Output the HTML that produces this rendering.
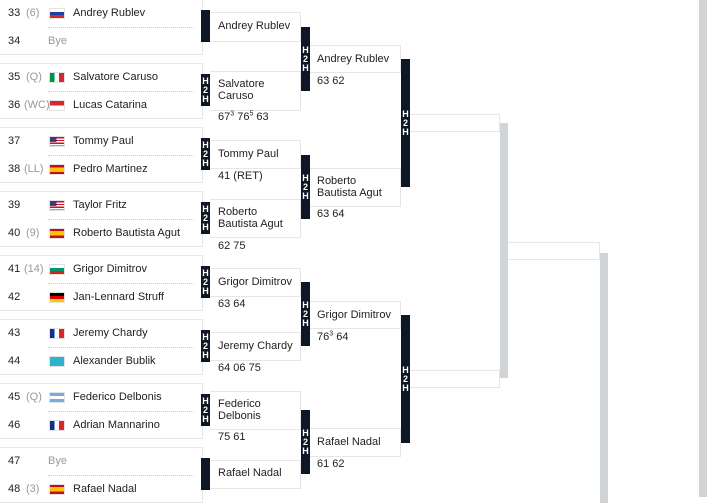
<!DOCTYPE html>
<html><head><meta charset="utf-8"><style>
*{margin:0;padding:0;box-sizing:border-box}
body{width:710px;height:497px;background:#fff;position:relative;overflow:hidden;font-family:"Liberation Sans",Arial,sans-serif;font-size:11px;color:#222}
.t{position:absolute;line-height:13px;white-space:nowrap}
.g{color:#999}
.blk{position:absolute;left:0;width:203px;height:56px;border-top:1px solid #e8e8e8;border-bottom:1px solid #e8e8e8;border-right:1px solid #e8e8e8}
.dot{position:absolute;left:48px;width:146px;border-top:1px dotted #c8c8c8}
.f{position:absolute;left:49px;width:16px;height:11px;border:1px solid #e2e2e2}
.bx{position:absolute;border-top:1px solid #e6e6e6;border-bottom:1px solid #e6e6e6;border-right:1px solid #e6e6e6}
.hb{position:absolute;width:9px;background:#0e1726;color:#fff;font-weight:bold;font-size:9px;line-height:9px;text-align:center;overflow:hidden;display:flex;flex-direction:column;justify-content:center;align-items:center;z-index:2}
.hb span{display:block;width:9px;text-align:center}
.gb{position:absolute;width:8px;background:#d1d4d7}
.ru{background:linear-gradient(#fff 33%,#1c3fa8 33%,#1c3fa8 66%,#d52b1e 66%)}
.it{background:linear-gradient(90deg,#009246 33%,#fff 33%,#fff 66%,#ce2b37 66%)}
.id{background:linear-gradient(#d8262e 50%,#fff 50%)}
.us{background:linear-gradient(90deg,#3c3b6e 45%,transparent 45%) top left/100% 55% no-repeat,repeating-linear-gradient(#c8102e 0 1.4px,#fff 1.4px 2.8px)}
.es{background:linear-gradient(#c60b1e 25%,#ffc400 25%,#ffc400 75%,#c60b1e 75%)}
.bg{background:linear-gradient(#fff 33%,#00966e 33%,#00966e 66%,#d62612 66%)}
.de{background:linear-gradient(#000 33%,#dd0000 33%,#dd0000 66%,#ffce00 66%)}
.fr{background:linear-gradient(90deg,#0f2f8f 33%,#fff 33%,#fff 66%,#e0242c 66%)}
.kz{background:#2fb1cf}
.ar{background:linear-gradient(#74acdf 33%,#fff 33%,#fff 66%,#74acdf 66%)}
sup{font-size:7px;line-height:0}
</style></head><body>

<div class="blk" style="top:-1px"></div><div class="dot" style="top:27px"></div>
<div class="blk" style="top:63px"></div><div class="dot" style="top:91px"></div>
<div class="blk" style="top:127px"></div><div class="dot" style="top:155px"></div>
<div class="blk" style="top:191px"></div><div class="dot" style="top:219px"></div>
<div class="blk" style="top:255px"></div><div class="dot" style="top:283px"></div>
<div class="blk" style="top:319px"></div><div class="dot" style="top:347px"></div>
<div class="blk" style="top:383px"></div><div class="dot" style="top:411px"></div>
<div class="blk" style="top:447px"></div><div class="dot" style="top:475px"></div>

<div class="t" style="left:8px;top:7px">33</div><div class="t g" style="left:26px;top:7px">(6)</div><div class="f ru" style="top:8px"></div><div class="t" style="left:73px;top:7px">Andrey Rublev</div>
<div class="t" style="left:8px;top:35px">34</div><div class="t g" style="left:48px;top:35px">Bye</div>

<div class="t" style="left:8px;top:71px">35</div><div class="t g" style="left:26px;top:71px">(Q)</div><div class="f it" style="top:72px"></div><div class="t" style="left:73px;top:71px">Salvatore Caruso</div>
<div class="t" style="left:8px;top:99px">36</div><div class="t g" style="left:24px;top:99px">(WC)</div><div class="f id" style="top:100px"></div><div class="t" style="left:73px;top:99px">Lucas Catarina</div>

<div class="t" style="left:8px;top:135px">37</div><div class="f us" style="top:136px"></div><div class="t" style="left:73px;top:135px">Tommy Paul</div>
<div class="t" style="left:8px;top:163px">38</div><div class="t g" style="left:24px;top:163px">(LL)</div><div class="f es" style="top:164px"></div><div class="t" style="left:73px;top:163px">Pedro Martinez</div>

<div class="t" style="left:8px;top:199px">39</div><div class="f us" style="top:200px"></div><div class="t" style="left:73px;top:199px">Taylor Fritz</div>
<div class="t" style="left:8px;top:227px">40</div><div class="t g" style="left:26px;top:227px">(9)</div><div class="f es" style="top:228px"></div><div class="t" style="left:73px;top:227px">Roberto Bautista Agut</div>

<div class="t" style="left:8px;top:263px">41</div><div class="t g" style="left:24px;top:263px">(14)</div><div class="f bg" style="top:264px"></div><div class="t" style="left:73px;top:263px">Grigor Dimitrov</div>
<div class="t" style="left:8px;top:291px">42</div><div class="f de" style="top:292px"></div><div class="t" style="left:73px;top:291px">Jan-Lennard Struff</div>

<div class="t" style="left:8px;top:327px">43</div><div class="f fr" style="top:328px"></div><div class="t" style="left:73px;top:327px">Jeremy Chardy</div>
<div class="t" style="left:8px;top:355px">44</div><div class="f kz" style="top:356px"></div><div class="t" style="left:73px;top:355px">Alexander Bublik</div>

<div class="t" style="left:8px;top:391px">45</div><div class="t g" style="left:26px;top:391px">(Q)</div><div class="f ar" style="top:392px"></div><div class="t" style="left:73px;top:391px">Federico Delbonis</div>
<div class="t" style="left:8px;top:419px">46</div><div class="f fr" style="top:420px"></div><div class="t" style="left:73px;top:419px">Adrian Mannarino</div>

<div class="t" style="left:8px;top:455px">47</div><div class="t g" style="left:48px;top:455px">Bye</div>
<div class="t" style="left:8px;top:483px">48</div><div class="t g" style="left:26px;top:483px">(3)</div><div class="f es" style="top:484px"></div><div class="t" style="left:73px;top:483px">Rafael Nadal</div>

<div class="hb" style="left:201px;top:10px;height:32px"></div>
<div class="hb" style="left:201px;top:74px;height:32px"><span>H</span><span>2</span><span>H</span></div>
<div class="hb" style="left:201px;top:138px;height:32px"><span>H</span><span>2</span><span>H</span></div>
<div class="hb" style="left:201px;top:202px;height:32px"><span>H</span><span>2</span><span>H</span></div>
<div class="hb" style="left:201px;top:266px;height:32px"><span>H</span><span>2</span><span>H</span></div>
<div class="hb" style="left:201px;top:330px;height:32px"><span>H</span><span>2</span><span>H</span></div>
<div class="hb" style="left:201px;top:394px;height:32px"><span>H</span><span>2</span><span>H</span></div>
<div class="hb" style="left:201px;top:458px;height:32px"></div>

<div class="bx" style="left:210px;top:12px;width:91px;height:30px"></div><div class="t" style="left:218px;top:20px">Andrey Rublev</div>
<div class="bx" style="left:210px;top:71px;width:91px;height:40px"></div><div class="t" style="left:218px;top:78px;line-height:12px">Salvatore<br>Caruso</div><div class="t" style="left:218px;top:111px">67<sup>3</sup> 76<sup>5</sup> 63</div>
<div class="bx" style="left:210px;top:140px;width:91px;height:29px"></div><div class="t" style="left:218px;top:148px">Tommy Paul</div><div class="t" style="left:218px;top:170px">41 (RET)</div>
<div class="bx" style="left:210px;top:199px;width:91px;height:39px"></div><div class="t" style="left:218px;top:206px;line-height:12px">Roberto<br>Bautista Agut</div><div class="t" style="left:218px;top:240px">62 75</div>
<div class="bx" style="left:210px;top:268px;width:91px;height:29px"></div><div class="t" style="left:218px;top:276px">Grigor Dimitrov</div><div class="t" style="left:218px;top:298px">63 64</div>
<div class="bx" style="left:210px;top:332px;width:91px;height:29px"></div><div class="t" style="left:218px;top:340px">Jeremy Chardy</div><div class="t" style="left:218px;top:362px">64 06 75</div>
<div class="bx" style="left:210px;top:391px;width:91px;height:39px"></div><div class="t" style="left:218px;top:398px;line-height:12px">Federico<br>Delbonis</div><div class="t" style="left:218px;top:431px">75 61</div>
<div class="bx" style="left:210px;top:460px;width:91px;height:29px"></div><div class="t" style="left:218px;top:467px">Rafael Nadal</div>

<div class="hb" style="left:301px;top:27px;height:64px"><span>H</span><span>2</span><span>H</span></div>
<div class="hb" style="left:301px;top:155px;height:64px"><span>H</span><span>2</span><span>H</span></div>
<div class="hb" style="left:301px;top:282px;height:64px"><span>H</span><span>2</span><span>H</span></div>
<div class="hb" style="left:301px;top:410px;height:64px"><span>H</span><span>2</span><span>H</span></div>

<div class="bx" style="left:310px;top:45px;width:91px;height:28px"></div><div class="t" style="left:317px;top:53px">Andrey Rublev</div><div class="t" style="left:317px;top:75px">63 62</div>
<div class="bx" style="left:310px;top:168px;width:91px;height:39px"></div><div class="t" style="left:317px;top:175px;line-height:12px">Roberto<br>Bautista Agut</div><div class="t" style="left:317px;top:208px">63 64</div>
<div class="bx" style="left:310px;top:301px;width:91px;height:28px"></div><div class="t" style="left:317px;top:309px">Grigor Dimitrov</div><div class="t" style="left:317px;top:331px">76<sup>3</sup> 64</div>
<div class="bx" style="left:310px;top:428px;width:91px;height:29px"></div><div class="t" style="left:317px;top:436px">Rafael Nadal</div><div class="t" style="left:317px;top:458px">61 62</div>

<div class="hb" style="left:401px;top:59px;height:128px"><span>H</span><span>2</span><span>H</span></div>
<div class="hb" style="left:401px;top:315px;height:128px"><span>H</span><span>2</span><span>H</span></div>

<div class="bx" style="left:410px;top:114px;width:90px;height:18px"></div>
<div class="bx" style="left:410px;top:370px;width:90px;height:18px"></div>
<div class="gb" style="left:500px;top:123px;height:255px"></div>

<div class="bx" style="left:508px;top:242px;width:92px;height:18px"></div>
<div class="gb" style="left:600px;top:253px;height:250px"></div>

<div class="gb" style="left:699px;top:0;height:497px"></div>
</body></html>
